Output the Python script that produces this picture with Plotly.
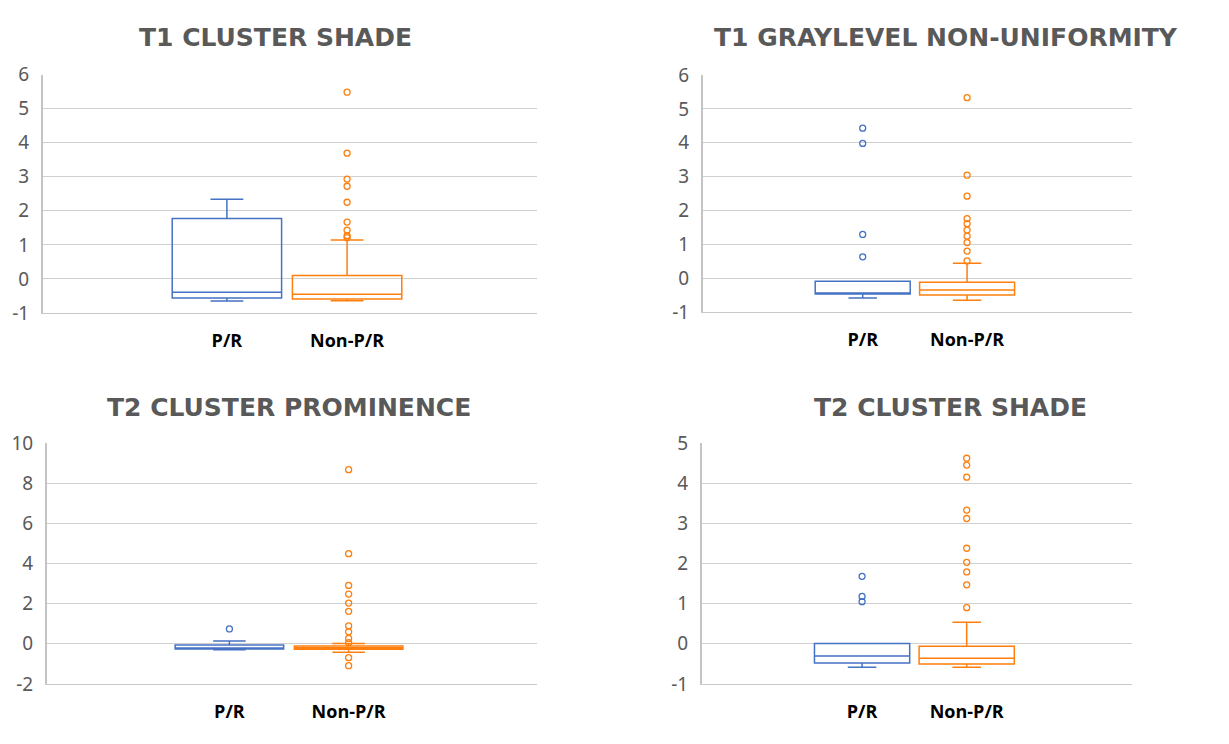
import plotly.graph_objects as go

# ---------------- data ----------------
categories = ["P/R", "Non-P/R"]
titles = ["T1 CLUSTER SHADE", "T1 GRAYLEVEL NON-UNIFORMITY",
          "T2 CLUSTER PROMINENCE", "T2 CLUSTER SHADE"]

# box stats per panel: [P/R, Non-P/R]
t1cs_lower = [-0.65, -0.64]
t1cs_q1 = [-0.56, -0.59]
t1cs_median = [-0.39, -0.45]
t1cs_q3 = [1.77, 0.10]
t1cs_upper = [2.34, 1.14]
t1cs_out_pr = []
t1cs_out_npr = [5.48, 3.69, 2.93, 2.72, 2.25, 1.67, 1.43, 1.27, 1.21]

t1gl_lower = [-0.59, -0.65]
t1gl_q1 = [-0.47, -0.50]
t1gl_median = [-0.45, -0.35]
t1gl_q3 = [-0.09, -0.12]
t1gl_upper = [-0.09, 0.44]
t1gl_out_pr = [4.43, 3.98, 1.29, 0.63]
t1gl_out_npr = [5.33, 3.04, 2.42, 1.76, 1.61, 1.42, 1.24, 1.05, 0.80, 0.51]

t2cp_lower = [-0.29, -0.42]
t2cp_q1 = [-0.26, -0.27]
t2cp_median = [-0.22, -0.19]
t2cp_q3 = [-0.06, -0.11]
t2cp_upper = [0.14, 0.02]
t2cp_out_pr = [0.74]
t2cp_out_npr = [8.67, 4.49, 2.91, 2.48, 2.03, 1.62, 0.89, 0.60, 0.27, 0.06, -0.69, -1.09]

t2cs_lower = [-0.58, -0.58]
t2cs_q1 = [-0.48, -0.50]
t2cs_median = [-0.30, -0.36]
t2cs_q3 = [0.01, -0.06]
t2cs_upper = [0.01, 0.54]
t2cs_out_pr = [1.68, 1.18, 1.05]
t2cs_out_npr = [4.62, 4.45, 4.15, 3.33, 3.12, 2.38, 2.03, 1.79, 1.47, 0.90]

y_ranges = [[-1, 6], [-1, 6], [-2, 10], [-1, 5]]
y_tickvals = [[-1, 0, 1, 2, 3, 4, 5, 6], [-1, 0, 1, 2, 3, 4, 5, 6],
              [-2, 0, 2, 4, 6, 8, 10], [-1, 0, 1, 2, 3, 4, 5]]
y_ticktext = [["-1", "0", "1", "2", "3", "4", "5", "6"],
              ["-1", "0", "1", "2", "3", "4", "5", "6"],
              ["-2", "0", "2", "4", "6", "8", "10"],
              ["-1", "0", "1", "2", "3", "4", "5"]]

panels = [
    (t1cs_lower, t1cs_q1, t1cs_median, t1cs_q3, t1cs_upper, t1cs_out_pr, t1cs_out_npr),
    (t1gl_lower, t1gl_q1, t1gl_median, t1gl_q3, t1gl_upper, t1gl_out_pr, t1gl_out_npr),
    (t2cp_lower, t2cp_q1, t2cp_median, t2cp_q3, t2cp_upper, t2cp_out_pr, t2cp_out_npr),
    (t2cs_lower, t2cs_q1, t2cs_median, t2cs_q3, t2cs_upper, t2cs_out_pr, t2cs_out_npr),
]

# ---------------- style / layout ----------------
colors = ["#4472C4", "#FF7F0E"]
W, H = 1229, 744
OFF = 8  # page body margin
x_dom_px = [(43, 537), (703, 1132), (47, 537), (702, 1132)]
y_dom_px = [(74.5, 313), (75, 312), (443, 684), (443, 684)]
title_pos_px = [(275, 38), (946, 38), (289, 407), (950, 407)]

fig = go.Figure()
for i, (lo, q1, med, q3, up, out_pr, out_npr) in enumerate(panels):
    ax = "" if i == 0 else str(i + 1)
    for j, cat in enumerate(categories):
        fig.add_trace(go.Box(
            x=[cat], q1=[q1[j]], median=[med[j]], q3=[q3[j]],
            lowerfence=[lo[j]], upperfence=[up[j]],
            boxpoints=False, width=0.91, whiskerwidth=0.3,
            line=dict(color=colors[j], width=1.5),
            fillcolor="rgba(255,255,255,0)",
            xaxis="x" + ax, yaxis="y" + ax, showlegend=False,
            hoverinfo="skip"))
        outs = out_pr if j == 0 else out_npr
        if outs:
            fig.add_trace(go.Scatter(
                x=[cat] * len(outs), y=outs, mode="markers",
                marker=dict(symbol="circle-open", size=6, color=colors[j],
                            line=dict(width=1.3, color=colors[j])),
                xaxis="x" + ax, yaxis="y" + ax, showlegend=False,
                hoverinfo="skip"))

    xd = [(x_dom_px[i][0] - OFF) / W, (x_dom_px[i][1] - OFF) / W]
    yd = [1 - (y_dom_px[i][1] - OFF) / H, 1 - (y_dom_px[i][0] - OFF) / H]
    fig.layout["xaxis" + ax] = dict(
        domain=xd, anchor="y" + ax, type="category",
        categoryorder="array", categoryarray=categories,
        range=[-1.53, 2.58], showgrid=False, zeroline=False,
        showline=True, linecolor="#c9c9c9", linewidth=1.2,
        ticks="", ticklabelstandoff=11, automargin=False,
        tickfont=dict(family="Open Sans", size=18, color="#000000", weight="bold"))
    fig.layout["yaxis" + ax] = dict(
        domain=yd, anchor="x" + ax, range=y_ranges[i],
        tickvals=y_tickvals[i], ticktext=y_ticktext[i],
        showgrid=True, gridcolor="#d0d0d0", gridwidth=1.2,
        zeroline=False, showline=True, linecolor="#c4c4c4", linewidth=2,
        ticks="", ticklabelstandoff=8, automargin=False,
        tickfont=dict(family="Noto Sans", size=19, color="#595959"))
    fig.add_annotation(
        text=titles[i], xref="paper", yref="paper",
        x=(title_pos_px[i][0] - OFF) / W, y=1 - (title_pos_px[i][1] - OFF) / H,
        xanchor="center", yanchor="middle", showarrow=False,
        font=dict(family="DejaVu Sans", size=25, color="#595959", weight="bold"))

fig.update_layout(
    width=W, height=H, margin=dict(l=0, r=0, t=0, b=0, autoexpand=False),
    paper_bgcolor="white", plot_bgcolor="white", boxmode="overlay")

fig.write_html("out.html")
